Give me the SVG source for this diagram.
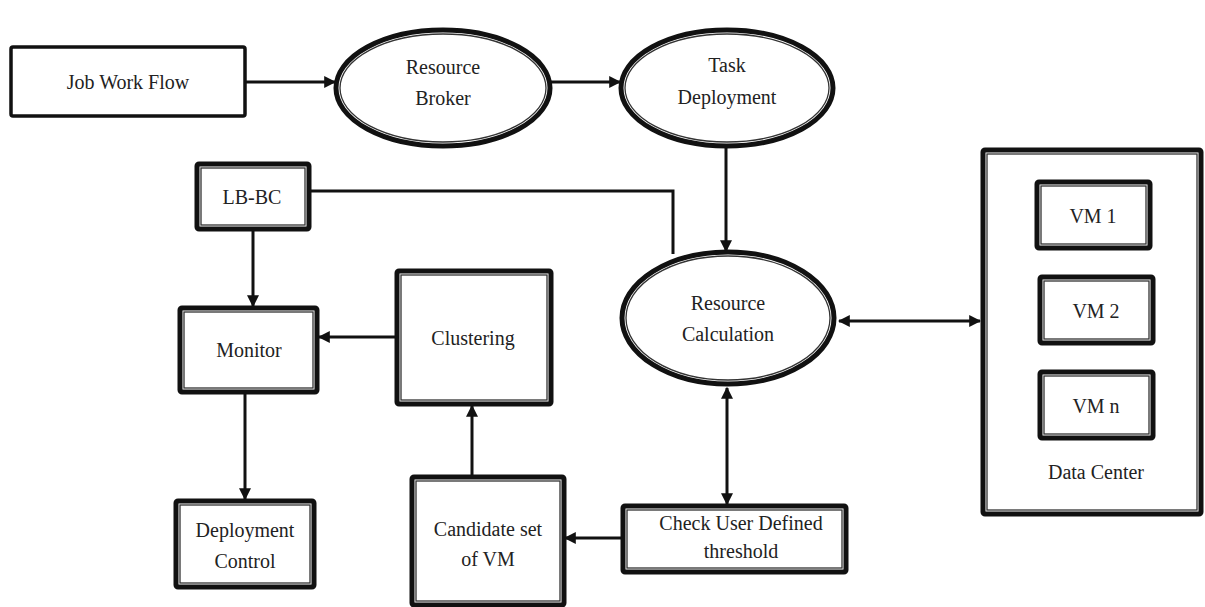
<svg xmlns="http://www.w3.org/2000/svg" width="1205" height="607" viewBox="0 0 1205 607">
<style>
.o{fill:#fff;stroke:#111;stroke-width:5}
.i{fill:none;stroke:#333;stroke-width:1.3}
.s{fill:#fff;stroke:#111;stroke-width:3.5}
.c{fill:none;stroke:#111;stroke-width:3}
text{font-family:"Liberation Serif","Times New Roman",serif;font-size:20px;fill:#222;text-anchor:middle;dominant-baseline:central}
</style>
<defs>
<marker id="ah" viewBox="0 0 10 10" refX="9" refY="5" markerWidth="4" markerHeight="4" orient="auto-start-reverse" markerUnits="strokeWidth">
<path d="M0,0L10,5L0,10Z" fill="#111"/>
</marker>
</defs>
<g id="connectors">
<line class="c" x1="245" y1="82" x2="335" y2="82" marker-end="url(#ah)"/>
<line class="c" x1="550" y1="82" x2="620" y2="82" marker-end="url(#ah)"/>
<line class="c" x1="726" y1="146" x2="726" y2="251" marker-end="url(#ah)"/>
<polyline class="c" points="310,191 673,191 673,254"/>
<line class="c" x1="253" y1="230" x2="253" y2="306" marker-end="url(#ah)"/>
<line class="c" x1="397" y1="337" x2="319" y2="337" marker-end="url(#ah)"/>
<line class="c" x1="245" y1="393" x2="245" y2="499" marker-end="url(#ah)"/>
<line class="c" x1="472" y1="477" x2="472" y2="406" marker-end="url(#ah)"/>
<line class="c" x1="622" y1="538" x2="565" y2="538" marker-end="url(#ah)"/>
<line class="c" x1="727" y1="388" x2="727" y2="504" marker-start="url(#ah)" marker-end="url(#ah)"/>
<line class="c" x1="839" y1="321" x2="980" y2="321" marker-start="url(#ah)" marker-end="url(#ah)"/>
</g>
<g id="job-work-flow">
<rect class="s" x="11" y="47" width="234" height="69" rx="2"/>
<text x="128" y="82">Job Work Flow</text>
</g>
<g id="resource-broker">
<ellipse class="o" cx="443" cy="88" rx="107" ry="58"/>
<ellipse class="i" cx="443" cy="88" rx="103" ry="54"/>
<text x="443" y="67">Resource</text>
<text x="443" y="98">Broker</text>
</g>
<g id="task-deployment">
<ellipse class="o" cx="727" cy="88" rx="106" ry="58"/>
<ellipse class="i" cx="727" cy="88" rx="102" ry="54"/>
<text x="727" y="65">Task</text>
<text x="727" y="97">Deployment</text>
</g>
<g id="resource-calculation">
<ellipse class="o" cx="728" cy="318" rx="106" ry="66"/>
<ellipse class="i" cx="728" cy="318" rx="102" ry="62"/>
<text x="728" y="303">Resource</text>
<text x="728" y="334">Calculation</text>
</g>
<g id="lb-bc">
<rect class="o" x="197" y="164" width="112" height="65" rx="2"/>
<rect class="i" x="201" y="168" width="104" height="57"/>
<text x="252" y="197">LB-BC</text>
</g>
<g id="monitor">
<rect class="o" x="180" y="308" width="137" height="84" rx="2"/>
<rect class="i" x="184" y="312" width="129" height="76"/>
<text x="249" y="350">Monitor</text>
</g>
<g id="clustering">
<rect class="o" x="397" y="271" width="154" height="133" rx="2"/>
<rect class="i" x="401" y="275" width="146" height="125"/>
<text x="473" y="338">Clustering</text>
</g>
<g id="deployment-control">
<rect class="o" x="176" y="501" width="138" height="86" rx="2"/>
<rect class="i" x="180" y="505" width="130" height="78"/>
<text x="245" y="530">Deployment</text>
<text x="245" y="561">Control</text>
</g>
<g id="candidate-set">
<rect class="o" x="412" y="477" width="152" height="128" rx="2"/>
<rect class="i" x="416" y="481" width="144" height="120"/>
<text x="488" y="529">Candidate set</text>
<text x="488" y="559">of VM</text>
</g>
<g id="check-threshold">
<rect class="o" x="623" y="506" width="223" height="66" rx="2"/>
<rect class="i" x="627" y="510" width="215" height="58"/>
<text x="741" y="523">Check User Defined</text>
<text x="741" y="551">threshold</text>
</g>
<g id="data-center">
<rect class="o" x="983" y="150" width="218" height="364" rx="2"/>
<rect class="i" x="987" y="154" width="210" height="356"/>
<text x="1096" y="472">Data Center</text>
</g>
<g id="vm1">
<rect class="o" x="1037" y="182" width="113" height="66" rx="2"/>
<rect class="i" x="1041" y="186" width="105" height="58"/>
<text x="1093" y="216">VM 1</text>
</g>
<g id="vm2">
<rect class="o" x="1040" y="277" width="113" height="66" rx="2"/>
<rect class="i" x="1044" y="281" width="105" height="58"/>
<text x="1096" y="311">VM 2</text>
</g>
<g id="vmn">
<rect class="o" x="1040" y="372" width="113" height="66" rx="2"/>
<rect class="i" x="1044" y="376" width="105" height="58"/>
<text x="1096" y="406">VM n</text>
</g>
</svg>
